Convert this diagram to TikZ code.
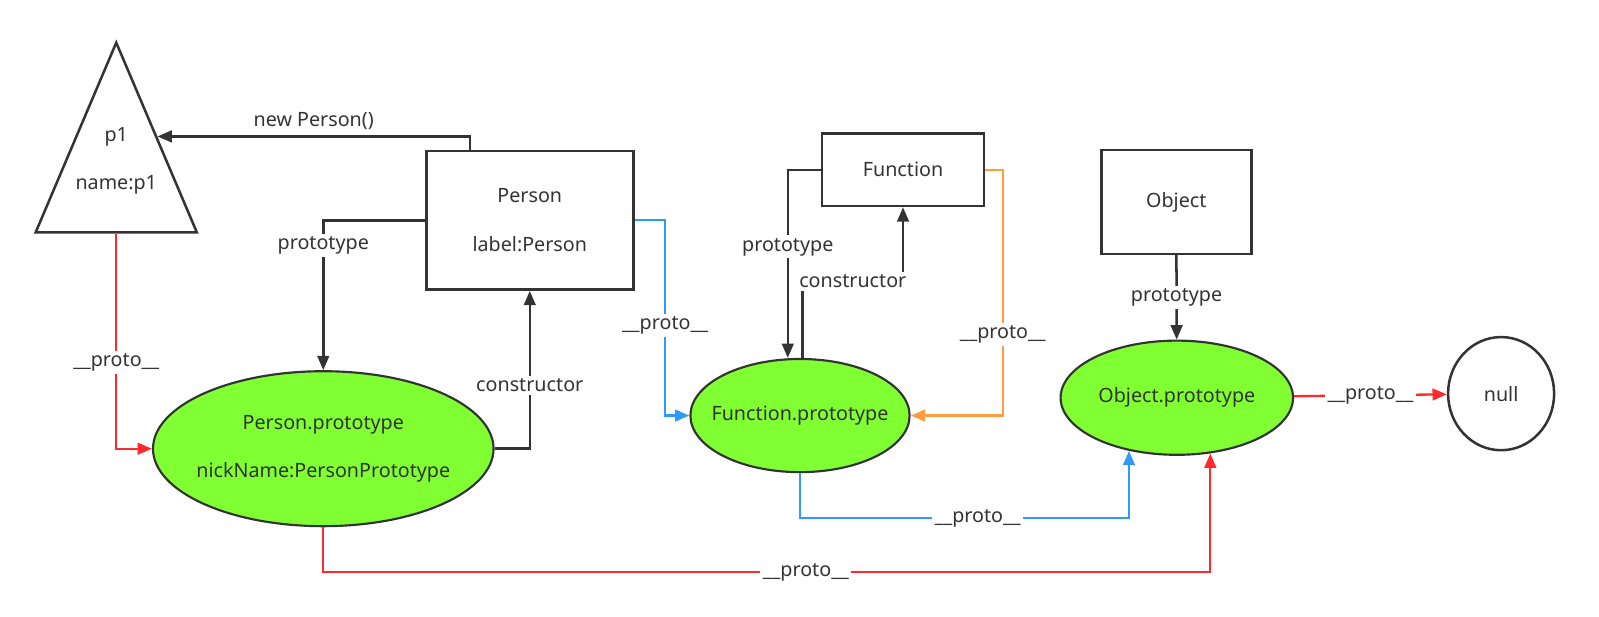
\documentclass[tikz,border=0pt]{standalone}
\usepackage{fontspec}
\setmainfont{Noto Sans}
\usetikzlibrary{shapes.geometric,arrows.meta}
\definecolor{txt}{HTML}{333333}
\definecolor{gline}{HTML}{333333}
\definecolor{rline}{HTML}{FF2B2B}
\definecolor{bline}{HTML}{2E9BFA}
\definecolor{oline}{HTML}{FF9E40}
\definecolor{protofill}{HTML}{80FF33}

\begin{document}
\begin{tikzpicture}[x=0.02cm,y=-0.02cm,
  every node/.style={font=\fontsize{11}{13}\selectfont,text=txt},
  box/.style={draw=gline,line width=1.4pt,rectangle,align=center,inner sep=0pt},
  oval/.style={draw=gline,line width=1.2pt,ellipse,fill=protofill,align=center,inner ysep=0pt,inner xsep=-0.6cm},
  tri/.style={draw=gline,line width=1.4pt,isosceles triangle,isosceles triangle stretches,shape border rotate=90,align=center,inner sep=0pt},
  lbl/.style={fill=white,inner sep=1.5pt},
  dk/.style={draw=gline,line width=1.4pt,-{Triangle[length=8pt,width=6.5pt]}},
  rd/.style={draw=rline,line width=1.3pt,-{Triangle[length=8pt,width=6.5pt]}},
  bl/.style={draw=bline,line width=1.3pt,-{Triangle[length=8pt,width=6.5pt]}},
  og/.style={draw=oline,line width=1.3pt,-{Triangle[length=8pt,width=6.5pt]}}]
\useasboundingbox (0,0) rectangle (1568,605);
\node[tri,minimum width=3.16cm,minimum height=3.72cm,anchor=lower side] (p1) at (114,229) {\smash{p1}\\[14pt]name:p1\rule[-23pt]{0pt}{1pt}};
\node[box,minimum width=4.06cm,minimum height=2.72cm] (Person) at (519.5,216) {Person\\[14pt]label:Person};
\node[oval,minimum width=6.68cm,minimum height=3.04cm] (PersonProto) at (317,440) {Person.prototype\\[14pt]nickName:PersonPrototype};
\node[box,minimum width=3.18cm,minimum height=1.42cm] (Function) at (885.5,166.5) {Function};
\node[oval,minimum width=4.3cm,minimum height=2.22cm] (FuncProto) at (784.5,407.5) {Function.prototype};
\node[box,minimum width=2.94cm,minimum height=2.04cm] (Object) at (1153.5,198) {Object};
\node[oval,minimum width=4.56cm,minimum height=2.24cm] (ObjProto) at (1154,390) {Object.prototype};
\node[draw=gline,line width=1.4pt,ellipse,minimum width=2.08cm,minimum height=2.22cm,inner sep=0pt] (null) at (1472,386) {null};

\draw[dk] ([xshift=0.88cm]Person.north west) |- node[pos=0.75,above=0pt]{new Person()} (p1.right side);
\draw[dk] (Person.west) -| node[pos=0.585,lbl]{prototype} (PersonProto.north);
\draw[dk] (PersonProto.east) -| node[pos=0.7,lbl]{constructor} (Person.south);
\draw[rd] (p1.lower side) |- node[pos=0.3,lbl]{\_\_proto\_\_} (PersonProto.west);
\draw[bl] (Person.east) -- ++(30,0) |- node[pos=0.27,lbl]{\_\_proto\_\_} (FuncProto.west);
\draw[dk] (Function.west) -| node[pos=0.705,lbl]{prototype} ([xshift=-0.24cm]FuncProto.north);
\draw[dk] ([xshift=0.05cm]FuncProto.north) -- ++(0,-75) -| node[pos=0.25,lbl]{constructor} (Function.south);
\draw[og] (Function.east) -- ++(17,0) |- node[pos=0.335,lbl]{\_\_proto\_\_} (FuncProto.east);
\draw[dk] (Object) -- node[lbl]{prototype} (ObjProto);
\draw[rd] (ObjProto) -- node[lbl]{\_\_proto\_\_} (null);
\draw[bl] (FuncProto.south) -- ++(0,44) -| node[pos=0.27,lbl]{\_\_proto\_\_} (ObjProto.228);
\draw[rd] (PersonProto.south) -- ++(0,44) -| node[pos=0.272,lbl]{\_\_proto\_\_} (ObjProto.301);
\end{tikzpicture}
\end{document}
